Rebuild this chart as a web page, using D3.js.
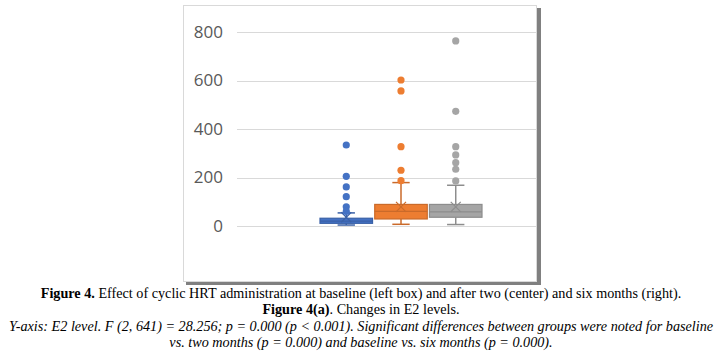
<!DOCTYPE html>
<html>
<head>
<meta charset="utf-8">
<script src="https://cdn.jsdelivr.net/npm/d3@7/dist/d3.min.js"></script>
<style>
  html, body { margin: 0; padding: 0; background: #fff; }
  svg { display: block; }
</style>
</head>
<body>
<svg id="chart" width="722" height="355"></svg>
<script>
// ---- data ----
const series = ["Baseline", "Two months", "Six months"];
const q1 = [11, 29, 36];
const median = [20, 60, 58];
const q3 = [32, 89, 89];
const whiskerLow = [4, 7, 6];
const whiskerHigh = [54, 179, 168];
const means = [36, 79, 79];
const outliers = [
  [334, 205, 161, 121, 79, 60],
  [602, 557, 327, 230, 187],
  [763, 473, 327, 293, 261, 234, 186]
];
const yTicks = [0, 200, 400, 600, 800];
const colors = ["#4472C4", "#ED7D31", "#A5A5A5"];

const captionLines = [
  [{t: "Figure 4.", b: true}, {t: " Effect of cyclic HRT administration at baseline (left box) and after two (center) and six months (right)."}],
  [{t: "Figure 4(a)", b: true}, {t: ". Changes in E2 levels."}],
  [{t: "Y-axis: E2 level. F (2, 641) = 28.256; p = 0.000 (p < 0.001). Significant differences between groups were noted for baseline", i: true}],
  [{t: "vs. two months (p = 0.000) and baseline vs. six months (p = 0.000).", i: true}]
];

// ---- drawing ----
const svg = d3.select("#chart");

// frame with shadow
svg.append("rect").attr("x", 186).attr("y", 8).attr("width", 355).attr("height", 277).attr("fill", "#808080");
svg.append("rect").attr("x", 183.5).attr("y", 5.5).attr("width", 353).attr("height", 276)
  .attr("fill", "#fff").attr("stroke", "#d9d9d9").attr("stroke-width", 1);

const y = d3.scaleLinear().domain([0, 800]).range([226, 32]);
const x = d3.scaleBand().domain(series).range([320, 482]).paddingInner(0.04);
const plotLeft = 237, plotRight = 536;

// gridlines
const grid = svg.append("g");
grid.selectAll("line").data(yTicks).join("line")
  .attr("x1", plotLeft).attr("x2", plotRight)
  .attr("y1", d => Math.round(y(d)) + 0.5).attr("y2", d => Math.round(y(d)) + 0.5)
  .attr("stroke", "#d9d9d9").attr("stroke-width", 1);

// y axis labels
const yAxis = d3.axisLeft(y).tickValues(yTicks).tickSize(0).tickPadding(0);
const ga = svg.append("g").attr("transform", `translate(223,0)`).call(yAxis);
ga.select(".domain").remove();
ga.selectAll("text")
  .attr("fill", "#595959")
  .style("font-family", "'Open Sans', sans-serif")
  .style("font-size", "17px");

// boxes
const data = series.map((s, i) => ({
  s, i, q1: q1[i], med: median[i], q3: q3[i], lo: whiskerLow[i], hi: whiskerHigh[i],
  mean: means[i], out: outliers[i], color: colors[i]
}));

const bw = x.bandwidth();
const capW = bw * 0.33;
const g = svg.append("g");

data.forEach(d => {
  const cx = x(d.s) + bw / 2;
  const stroke = d3.color(d.color).darker(0.45).formatHex();
  const gg = g.append("g");
  gg.append("line").attr("x1", cx).attr("x2", cx).attr("y1", y(d.q3)).attr("y2", y(d.hi))
    .attr("stroke", stroke).attr("stroke-width", 1.5);
  gg.append("line").attr("x1", cx).attr("x2", cx).attr("y1", y(d.q1)).attr("y2", y(d.lo))
    .attr("stroke", stroke).attr("stroke-width", 1.5);
  [d.hi, d.lo].forEach(v => {
    gg.append("line").attr("x1", cx - capW / 2).attr("x2", cx + capW / 2)
      .attr("y1", y(v)).attr("y2", y(v)).attr("stroke", stroke).attr("stroke-width", 1.5);
  });
  gg.append("rect").attr("x", x(d.s)).attr("width", bw)
    .attr("y", y(d.q3)).attr("height", y(d.q1) - y(d.q3))
    .attr("fill", d.color).attr("stroke", stroke).attr("stroke-width", 1.2);
  gg.append("line").attr("x1", x(d.s)).attr("x2", x(d.s) + bw)
    .attr("y1", y(d.med)).attr("y2", y(d.med)).attr("stroke", stroke).attr("stroke-width", 1.2);
  const m = 5, my = y(d.mean);
  gg.append("path").attr("d", `M${cx - m},${my - m}L${cx + m},${my + m}M${cx - m},${my + m}L${cx + m},${my - m}`)
    .attr("stroke", stroke).attr("stroke-width", 1.2).attr("fill", "none");
  gg.selectAll("circle").data(d.out).join("circle")
    .attr("cx", cx).attr("cy", v => y(v)).attr("r", 3.6)
    .attr("fill", d.color);
});

// caption
const capBase = [298, 314, 331, 347];
const cap = svg.append("g").style("font-family", "'Liberation Serif', 'Times New Roman', serif").style("font-size", "14.2px");
captionLines.forEach((line, li) => {
  const t = cap.append("text").attr("x", 361).attr("y", capBase[li]).attr("text-anchor", "middle").attr("fill", "#000");
  line.forEach(seg => {
    t.append("tspan").text(seg.t)
      .style("font-weight", seg.b ? "bold" : "normal")
      .style("font-style", seg.i ? "italic" : "normal");
  });
});
</script>
</body>
</html>
